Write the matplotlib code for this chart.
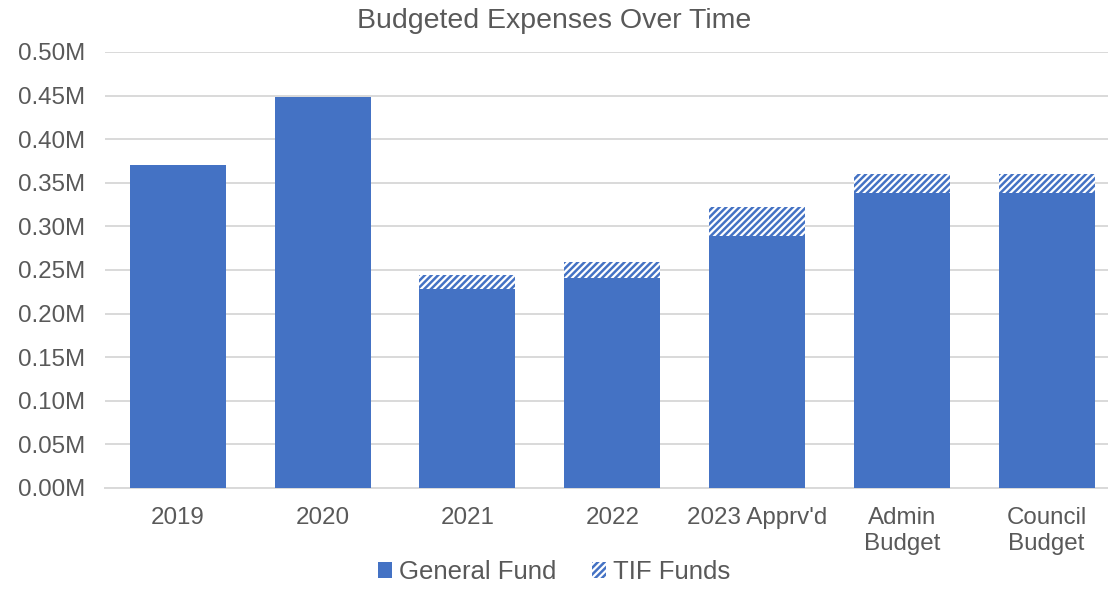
import matplotlib
matplotlib.use("Agg")
import matplotlib.pyplot as plt
from matplotlib.ticker import FuncFormatter

categories = ["2019", "2020", "2021", "2022", "2023 Apprv'd", "Admin\nBudget", "Council\nBudget"]
general_fund = [0.370, 0.448, 0.228, 0.241, 0.289, 0.338, 0.338]
tif_funds = [0.0, 0.0, 0.016, 0.018, 0.033, 0.022, 0.022]

BLUE = "#4472C4"
TEXT = "#595959"
GRID = "#D9D9D9"

plt.rcParams["font.family"] = ["Liberation Sans", "DejaVu Sans"]
plt.rcParams["hatch.color"] = BLUE
plt.rcParams["hatch.linewidth"] = 1.8

fig = plt.figure(figsize=(11.08, 5.89), dpi=100)
ax = fig.add_axes([0.0952, 0.1715, 0.9148, 0.7403])

x = list(range(len(categories)))
w = 0.663
ax.bar(x, general_fund, width=w, color=BLUE, label="General Fund", zorder=3)
ax.bar(x, tif_funds, width=w, bottom=general_fund, color="white",
       edgecolor=BLUE, hatch="/////", linewidth=0, label="TIF Funds", zorder=3)

ax.set_ylim(0, 0.5)
ax.set_xlim(-0.5, 6.5)
ax.set_yticks([i * 0.05 for i in range(11)])
ax.yaxis.set_major_formatter(FuncFormatter(lambda v, p: f"{v:.2f}M"))
ax.set_xticks(x)
ax.set_xticklabels(categories, linespacing=1.2)
ax.tick_params(axis="both", colors=TEXT, labelsize=17.4, length=0)
ax.tick_params(axis="y", pad=14.5)
ax.tick_params(axis="x", pad=14)

ax.grid(axis="y", color=GRID, linewidth=1.4, zorder=0)
ax.set_axisbelow(True)
for s in ["top", "right", "left"]:
    ax.spines[s].set_visible(False)
ax.spines["bottom"].set_color(GRID)
ax.spines["bottom"].set_linewidth(1.4)

fig.text(0.5, 0.965, "Budgeted Expenses Over Time", ha="center", va="center",
         fontsize=20.5, color=TEXT)

fig.legend(loc="center", bbox_to_anchor=(0.5, 1 - 572 / 589), ncol=2, frameon=False,
           fontsize=18.5, handlelength=0.55, handleheight=0.55, handletextpad=0.25,
           columnspacing=1.4, labelcolor=TEXT, borderpad=0)

fig.savefig("out.png", dpi=100)
